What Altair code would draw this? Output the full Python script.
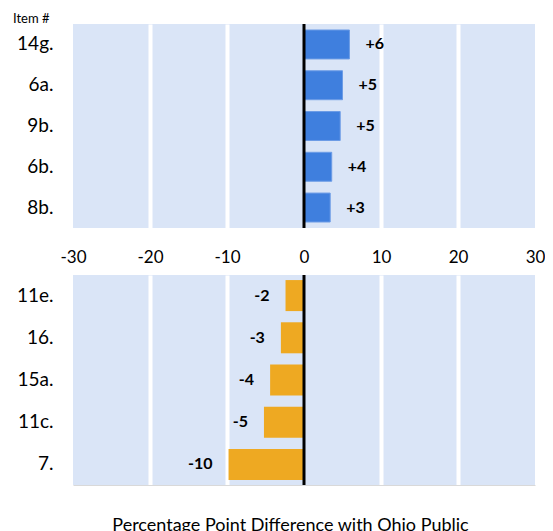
import altair as alt
import pandas as pd

# ---- data ----
top_items = ["14g.", "6a.", "9b.", "6b.", "8b."]
top_values = [5.9, 5.0, 4.7, 3.6, 3.4]
top_labels = ["+6", "+5", "+5", "+4", "+3"]

bottom_items = ["11e.", "16.", "15a.", "11c.", "7."]
bottom_values = [-2.4, -3.0, -4.4, -5.2, -9.8]
bottom_labels = ["-2", "-3", "-4", "-5", "-10"]

tick_values = [-30, -20, -10, 0, 10, 20, 30]
x_title = "Percentage Point Difference with Ohio Public"

top_df = pd.DataFrame({"item": top_items, "value": top_values, "label": top_labels})
bot_df = pd.DataFrame({"item": bottom_items, "value": bottom_values, "label": bottom_labels})
zero_df = pd.DataFrame({"value": [0]})

FONT = "Lato"
BLUE = "#3F7FDE"
ORANGE = "#EEA922"
grid_op = {"condition": {"test": "abs(datum.value) >= 30 || datum.value == 0", "value": 0}, "value": 1}

xscale = alt.Scale(domain=[-30, 30], nice=False, zero=False)
W = 462


def y_enc(items, pin, pout):
    return alt.Y(
        "item:N",
        sort=items,
        scale=alt.Scale(paddingInner=pin, paddingOuter=pout),
        axis=alt.Axis(
            title=None, domain=False, ticks=False, labelFontSize=19, labelFont=FONT,
            labelColor="#000000", labelPadding=20, minExtent=65, maxExtent=65,
        ),
    )


top_x_axis = alt.Axis(
    values=tick_values, title=None, domain=False, ticks=False, tickSize=0,
    labelFontSize=17, labelFont=FONT, labelColor="#000000", labelPadding=21,
    labelFlush=False, labelExpr="'' + datum.value",
    grid=True, gridColor="white", gridWidth=4, gridOpacity=grid_op,
)

bot_x_axis = alt.Axis(
    values=tick_values, title=x_title, labels=False, ticks=False, tickSize=0,
    domain=True, domainColor="#D9D9D9", domainWidth=1,
    grid=True, gridColor="white", gridWidth=4, gridOpacity=grid_op,
    titleFont=FONT, titleFontSize=18, titleFontWeight="normal", titleColor="#000000",
    titlePadding=31, titleX=217,
)

# top panel
top_bars = alt.Chart(top_df).mark_bar(color=BLUE, stroke="#6C9CE6", strokeWidth=1).encode(
    x=alt.X("value:Q", scale=xscale, axis=top_x_axis),
    y=y_enc(top_items, 0.29, 0.147),
)
top_text = alt.Chart(top_df).mark_text(
    align="left", baseline="middle", dx=16, font=FONT, fontSize=16, fontWeight="bold", color="#000000"
).encode(x=alt.X("value:Q", scale=xscale), y=alt.Y("item:N", sort=top_items), text="label:N")
top_zero = alt.Chart(zero_df).mark_rule(color="#000000", strokeWidth=3).encode(
    x=alt.X("value:Q", scale=xscale)
)
top = alt.layer(top_bars, top_text, top_zero).properties(
    width=W, height=204,
    title=alt.TitleParams("Item #", anchor="start", frame="bounds", fontSize=13, font=FONT,
                          fontWeight="normal", color="#000000", offset=0, dx=5, dy=3),
)

# bottom panel
bot_bars = alt.Chart(bot_df).mark_bar(color=ORANGE).encode(
    x=alt.X("value:Q", scale=xscale, axis=bot_x_axis),
    y=y_enc(bottom_items, 0.265, 0.12),
)
bot_text = alt.Chart(bot_df).mark_text(
    align="right", baseline="middle", dx=-16, font=FONT, fontSize=16, fontWeight="bold", color="#000000"
).encode(x=alt.X("value:Q", scale=xscale), y=alt.Y("item:N", sort=bottom_items), text="label:N")
bot_zero = alt.Chart(zero_df).mark_rule(color="#000000", strokeWidth=3).encode(
    x=alt.X("value:Q", scale=xscale)
)
bottom = alt.layer(bot_bars, bot_text, bot_zero).properties(width=W, height=210)

chart = alt.vconcat(top, bottom, spacing=8).properties(
    padding={"left": 0, "top": 4, "right": 0, "bottom": 0}
).configure_view(fill="#DAE5F7", stroke=None).configure_axis(gridCap="butt")

chart.save("out.html", embed_options={"renderer": "svg", "actions": False})
